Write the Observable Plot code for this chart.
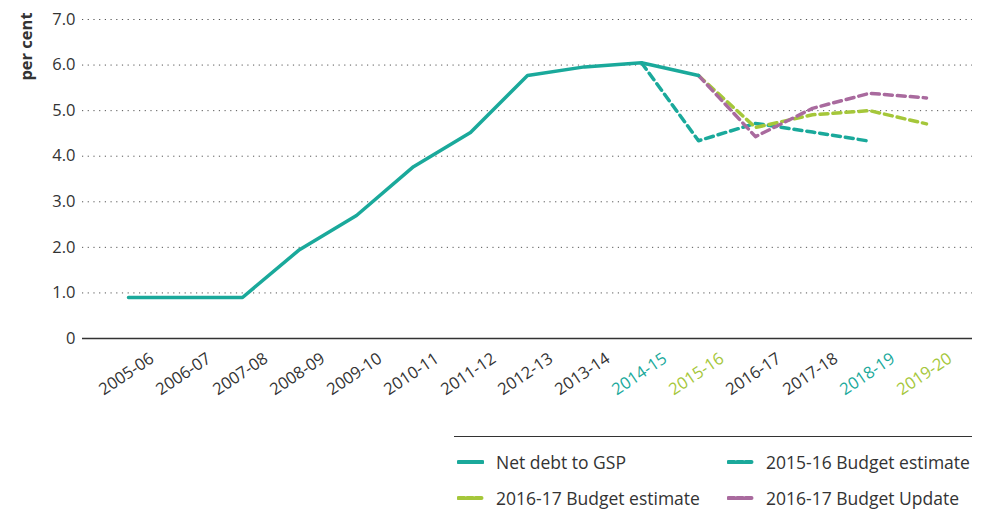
<!DOCTYPE html>
<html>
<head>
<meta charset="utf-8">
<script src="https://cdn.jsdelivr.net/npm/d3@7"></script>
<script src="https://cdn.jsdelivr.net/npm/@observablehq/plot@0.6"></script>
<style>
  body { margin: 0; background: #fff; font-family: "Open Sans", sans-serif; }
  #wrap { position: relative; width: 981px; height: 509px; overflow: hidden; }
  .rule { position: absolute; left: 454px; top: 436px; width: 518px; height: 0; border-top: 1.5px solid #333; }
  .item { position: absolute; font-size: 17.5px; line-height: 19px; color: #333; display: flex; align-items: center; white-space: nowrap; }
  .item svg { margin-right: 12px; }
</style>
</head>
<body>
<div id="wrap"></div>
<script>
const categories = ["2005-06","2006-07","2007-08","2008-09","2009-10","2010-11","2011-12","2012-13","2013-14","2014-15","2015-16","2016-17","2017-18","2018-19","2019-20"];
const netDebt = [0.9, 0.9, 0.9, 1.95, 2.7, 3.77, 4.52, 5.77, 5.96, 6.05, 5.77];
const budget1516Years = ["2014-15","2015-16","2016-17","2017-18","2018-19"];
const budget1516 = [6.05, 4.34, 4.72, 4.53, 4.33];
const budget1617Years = ["2015-16","2016-17","2017-18","2018-19","2019-20"];
const budget1617 = [5.77, 4.63, 4.91, 5.0, 4.71];
const update1617Years = ["2015-16","2016-17","2017-18","2018-19","2019-20"];
const update1617 = [5.77, 4.43, 5.05, 5.38, 5.28];
const yTicks = [0, 1, 2, 3, 4, 5, 6, 7];
const seriesNames = ["Net debt to GSP", "2015-16 Budget estimate", "2016-17 Budget estimate", "2016-17 Budget Update"];
const highlightTeal = ["2014-15", "2018-19"];
const highlightGreen = ["2015-16", "2019-20"];

const TEAL = "#1aa99b", GREEN = "#a5c73a", PURPLE = "#a96a9e", DARK = "#333";

const netData = netDebt.map((v, i) => ({x: categories[i], y: v}));
const b1516 = budget1516.map((v, i) => ({x: budget1516Years[i], y: v}));
const b1617 = budget1617.map((v, i) => ({x: budget1617Years[i], y: v}));
const u1617 = update1617.map((v, i) => ({x: update1617Years[i], y: v}));

const tickColor = d => highlightTeal.includes(d) ? TEAL : highlightGreen.includes(d) ? GREEN : DARK;

const chart = Plot.plot({
  width: 981,
  height: 430,
  marginLeft: 82,
  marginRight: 9,
  marginTop: 19,
  marginBottom: 92,
  style: {fontFamily: "'Open Sans', sans-serif", background: "#fff"},
  x: {type: "point", domain: categories, padding: 0.75, axis: null},
  y: {domain: [0, 7], axis: null},
  color: {type: "identity"},
  marks: [
    Plot.gridY(yTicks.filter(d => d > 0), {stroke: "#555", strokeOpacity: 1, strokeWidth: 1, strokeDasharray: "1.2,4.5"}),
    Plot.ruleY([0], {stroke: DARK, strokeWidth: 1.5}),
    Plot.axisY({ticks: yTicks, tickSize: 0, tickPadding: 7, fontSize: 16.5, fill: DARK, label: null,
      tickFormat: d => d === 0 ? "0" : d.toFixed(1)}),
    Plot.text(["per cent"], {frameAnchor: "top-left", dx: -62, dy: 27, rotate: -90, textAnchor: "middle",
      fontSize: 16.5, fontWeight: "bold", fill: DARK}),
    Plot.text(categories, {x: d => d, frameAnchor: "bottom", dy: 40, dx: 1, rotate: -34, textAnchor: "middle",
      fontSize: 16.5, fill: tickColor}),
    Plot.line(b1516, {x: "x", y: "y", stroke: TEAL, strokeWidth: 3.5, strokeDasharray: "8,5"}),
    Plot.line(b1617, {x: "x", y: "y", stroke: GREEN, strokeWidth: 3.5, strokeDasharray: "8,5"}),
    Plot.line(u1617, {x: "x", y: "y", stroke: PURPLE, strokeWidth: 3.5, strokeDasharray: "8,5"}),
    Plot.line(netData, {x: "x", y: "y", stroke: TEAL, strokeWidth: 3.5})
  ]
});

const wrap = document.getElementById("wrap");
wrap.appendChild(chart);

const rule = document.createElement("div");
rule.className = "rule";
wrap.appendChild(rule);

const legendItems = [
  {name: seriesNames[0], color: TEAL, dash: null, left: 457, top: 462},
  {name: seriesNames[1], color: TEAL, dash: "6,2.5", left: 727, top: 462},
  {name: seriesNames[2], color: GREEN, dash: "6,2.5", left: 457, top: 498},
  {name: seriesNames[3], color: PURPLE, dash: "6,2.5", left: 727, top: 498}
];
legendItems.forEach(it => {
  const d = document.createElement("div");
  d.className = "item";
  d.style.left = it.left + "px";
  d.style.top = (it.top - 9.5) + "px";
  d.style.height = "19px";
  d.innerHTML = `<svg width="27" height="8"><line x1="1.5" y1="4" x2="25.5" y2="4" stroke="${it.color}" stroke-width="4" stroke-linecap="round" ${it.dash ? `stroke-dasharray="${it.dash}"` : ""}/></svg><span>${it.name}</span>`;
  wrap.appendChild(d);
});
</script>
</body>
</html>
